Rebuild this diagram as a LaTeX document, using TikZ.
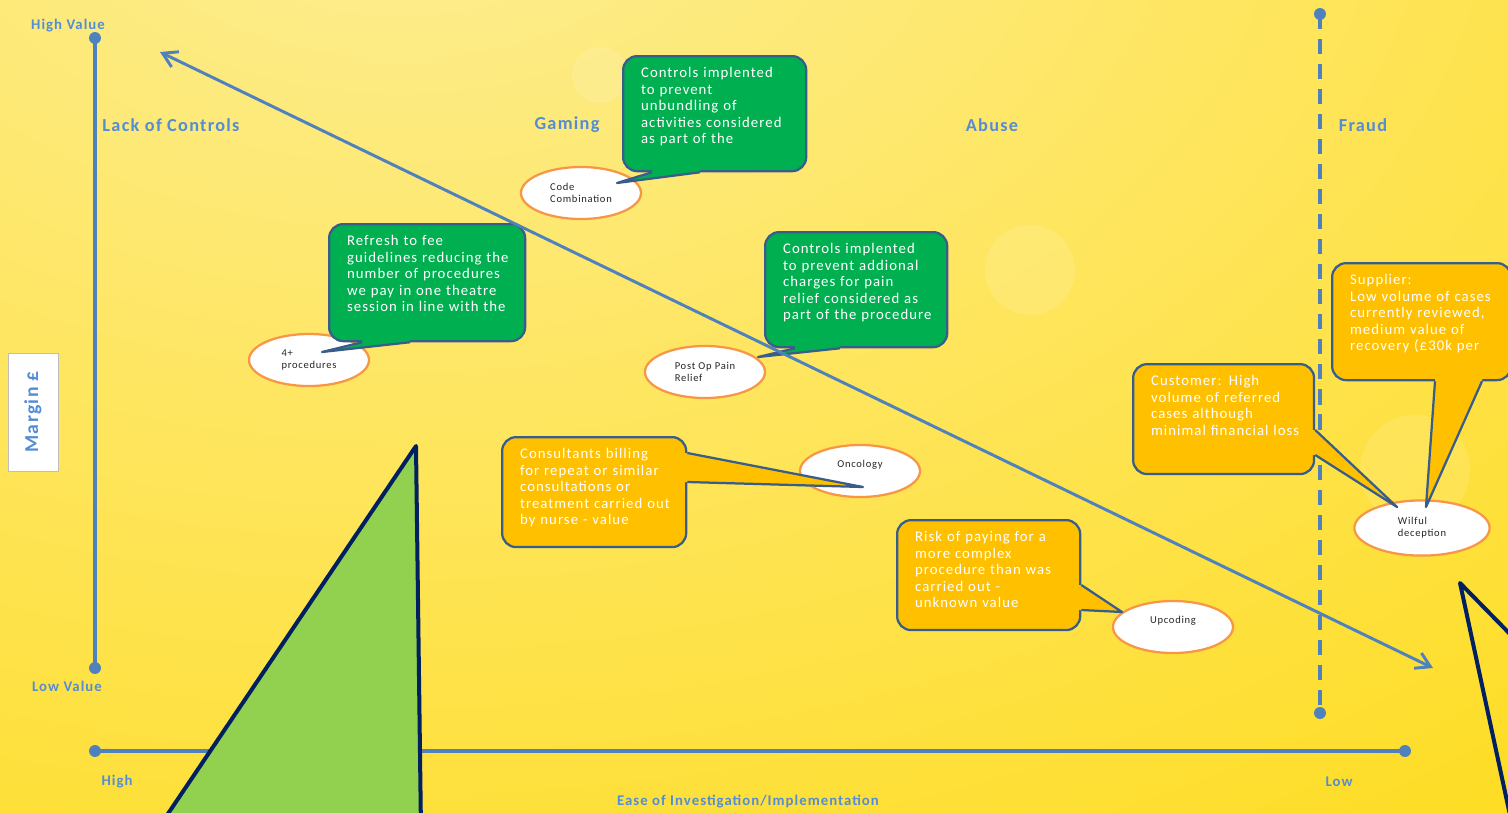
\documentclass[tikz,border=0pt]{standalone}
\usepackage{fontspec}
\setmainfont{Carlito}
\newfontfamily\trackedfont[LetterSpace=7]{Carlito}
\usepackage{tikz}
\usepackage{xcolor}
\usetikzlibrary{arrows.meta, positioning, shapes, calc}
\definecolor{axisblue}{RGB}{79, 129, 189}
\definecolor{labelblue}{RGB}{84, 141, 212}
\definecolor{notegreen}{RGB}{0, 176, 80}
\definecolor{noteorange}{RGB}{255, 192, 0}
\definecolor{noteline}{RGB}{56, 93, 138}
\definecolor{ringorange}{RGB}{247, 150, 70}
\definecolor{wedgegreen}{RGB}{146, 208, 80}
\definecolor{wedgenavy}{RGB}{0, 32, 96}
\definecolor{palesun}{RGB}{253, 238, 150}
\definecolor{sungold}{RGB}{255, 215, 0}
\definecolor{boxgray}{RGB}{190, 190, 190}

\begin{document}
\begin{tikzpicture}[
    x=0.025cm, y=-0.025cm,
    axisline/.style={line width=2.85pt, axisblue},
    enddot/.style={circle, fill=axisblue, inner sep=0pt, minimum size=8.5pt},
    endlabel/.style={font=\trackedfont\bfseries\fontsize{10.5}{12}\selectfont, text=labelblue},
    zone/.style={font=\trackedfont\bfseries\fontsize{13}{15}\selectfont, text=labelblue},
    trend/.style={{Straight Barb[length=10pt, width=12pt]}-{Straight Barb[length=10pt, width=12pt]}, line width=2.1pt, axisblue},
    risk/.style={ellipse, draw=ringorange, fill=white, line width=1.6pt, minimum width=3cm, minimum height=1.3cm, inner sep=0pt, align=left, text=black!85, font=\trackedfont\fontsize{7.5}{8.7}\selectfont},
    callbox/.style={draw=noteline, line width=1.6pt, rounded corners=10pt, anchor=north west, inner sep=0pt, text=white, align=left, text height=15.5pt, execute at begin node={\leftskip=12.8pt}, font=\trackedfont\fontsize{10.5}{11.7}\selectfont},
    greennote/.style={callbox, fill=notegreen},
    orangenote/.style={callbox, fill=noteorange},
    pointer/.style={draw=noteline, line width=1.6pt, line join=round},
    sail/.style={draw=wedgenavy, line width=2.85pt, line join=round}
]

% Background
\useasboundingbox (0,0) rectangle (1508,812);
\clip (0,0) rectangle (1508,812);
\fill[sungold] (0,0) rectangle (1508,812);
\shade[inner color=palesun, outer color=sungold] (400,-150) ellipse (2400 and 1600);
\fill[white, fill opacity=0.12] (600,75) circle (28);
\fill[white, fill opacity=0.12] (1030,270) circle (45);
\fill[white, fill opacity=0.12] (1415,470) circle (55);

% Value axis
\node[enddot] (vhigh) at (95,38) {};
\node[enddot] (vlow) at (95,668) {};
\draw[axisline] (vhigh.center) -- (vlow.center);
\node[endlabel] (highval) at (68,26) {High Value};
\node[endlabel] (lowval) at (67,686) {Low Value};

% Ease axis
\node[enddot] (hhigh) at (95,751) {};
\node[enddot] (hlow) at (1405,751) {};
\draw[axisline] (hhigh.center) -- (hlow.center);
\node[endlabel] (easyend) at (117,782) {High};
\node[endlabel] (hardend) at (1339,782) {Low};
\node[endlabel] (easeaxis) at (748,802) {Ease of Investigation/Implementation};

% Fraud boundary
\node[enddot] (ftop) at (1320,14) {};
\node[enddot] (fbot) at (1320,713) {};
\draw[axisline, dash pattern=on 10.7pt off 7.1pt] (ftop.center) -- (fbot.center);

\node[draw=boxgray, fill=white, rotate=90, minimum width=2.95cm, minimum height=1.25cm, text=labelblue, font=\trackedfont\bfseries\fontsize{14}{16}\selectfont] (margin) at (33,412) {Margin £};

% Zones
\node[zone] (lack) at (171,125) {Lack of Controls};
\node[zone] (gaming) at (567,125) {Gaming};
\node[zone] (abuse) at (992,125) {Abuse};
\node[zone] (fraud) at (1363,125) {Fraud};

% Risks
\node[risk] (combo) at (581,193) {Code\\Combination};
\node[risk] (fourplus) at (309,360) {4+\\procedures};
\node[risk] (painrelief) at (705,372) {Post Op Pain\\Relief};
\node[risk, text depth=10pt] (oncology) at (860,471) {Oncology};
\node[risk, text depth=10pt] (upcoding) at (1173,627) {Upcoding};
\node[risk, minimum width=3.38cm, minimum height=1.38cm] (wilful) at (1422,528) {Wilful\\deception};

% Green callouts
\node[greennote, text width=130.2pt, text depth=66.3pt] (unbundle) at (622,55)
    {Controls implented\\to prevent\\unbundling of\\activities considered\\as part of the};
\coordinate (unbundle-tip) at ($(combo.center)+(36,-10)$);
\fill[notegreen] ($(unbundle.south west)+(30,-3)$) -- ($(unbundle.south west)+(30,0)$) -- (unbundle-tip) -- ($(unbundle.south west)+(78,0)$) -- ($(unbundle.south west)+(78,-3)$) -- cycle;
\draw[pointer] ($(unbundle.south west)+(30,0)$) -- (unbundle-tip) -- ($(unbundle.south west)+(78,0)$);

\node[greennote, text width=139.4pt, text depth=67.7pt] (feerefresh) at (328,223)
    {Refresh to fee\\guidelines reducing the\\number of procedures\\we pay in one theatre\\session in line with the};
\coordinate (feerefresh-tip) at ($(fourplus.center)+(13,-8)$);
\fill[notegreen] ($(feerefresh.south west)+(34,-3)$) -- ($(feerefresh.south west)+(34,0)$) -- (feerefresh-tip) -- ($(feerefresh.south west)+(82,0)$) -- ($(feerefresh.south west)+(82,-3)$) -- cycle;
\draw[pointer] ($(feerefresh.south west)+(34,0)$) -- (feerefresh-tip) -- ($(feerefresh.south west)+(82,0)$);

\node[greennote, text width=129.5pt, text depth=66.3pt] (painnote) at (764,231)
    {Controls implented\\to prevent addional\\charges for pain\\relief considered as\\part of the procedure};
\coordinate (painnote-tip) at ($(painrelief.center)+(53,-15)$);
\fill[notegreen] ($(painnote.south west)+(31,-3)$) -- ($(painnote.south west)+(31,0)$) -- (painnote-tip) -- ($(painnote.south west)+(76,0)$) -- ($(painnote.south west)+(76,-3)$) -- cycle;
\draw[pointer] ($(painnote.south west)+(31,0)$) -- (painnote-tip) -- ($(painnote.south west)+(76,0)$);

% Orange callouts
\node[orangenote, text width=130.9pt, text depth=62.7pt] (billing) at (501,436)
    {Consultants billing\\for repeat or similar\\consultations or\\treatment carried out\\by nurse - value};
\coordinate (billing-tip) at ($(oncology.center)+(3,16)$);
\fill[noteorange] ($(billing.north east)+(-3,17)$) -- ($(billing.north east)+(0,17)$) -- (billing-tip) -- ($(billing.north east)+(0,46)$) -- ($(billing.north east)+(-3,46)$) -- cycle;
\draw[pointer] ($(billing.north east)+(0,17)$) -- (billing-tip) -- ($(billing.north east)+(0,46)$);

\node[orangenote, text width=130.2pt, text depth=62.7pt] (complexity) at (896,519)
    {Risk of paying for a\\more complex\\procedure than was\\carried out -\\unknown value};
\coordinate (complexity-tip) at ($(upcoding.center)+(-51,-15)$);
\fill[noteorange] ($(complexity.north east)+(-3,66)$) -- ($(complexity.north east)+(0,66)$) -- (complexity-tip) -- ($(complexity.north east)+(0,91)$) -- ($(complexity.north east)+(-3,91)$) -- cycle;
\draw[pointer] ($(complexity.north east)+(0,66)$) -- (complexity-tip) -- ($(complexity.north east)+(0,91)$);

\node[orangenote, text width=128.7pt, text depth=62.7pt] (customer) at (1132,363)
    {Customer: High\\volume of referred\\cases although\\minimal financial loss};
\coordinate (customer-tip) at ($(wilful.center)+(-25,-21)$);
\fill[noteorange] ($(customer.north east)+(-3,67)$) -- ($(customer.north east)+(0,67)$) -- (customer-tip) -- ($(customer.north east)+(0,92)$) -- ($(customer.north east)+(-3,92)$) -- cycle;
\draw[pointer] ($(customer.north east)+(0,67)$) -- (customer-tip) -- ($(customer.north east)+(0,92)$);

\node[orangenote, text width=127.3pt, text depth=67.7pt] (supplier) at (1331,262)
    {Supplier:\\Low volume of cases\\currently reviewed,\\medium value of\\recovery (£30k per};
\coordinate (supplier-tip) at ($(wilful.center)+(4,-21)$);
\fill[noteorange] ($(supplier.south west)+(104,-3)$) -- ($(supplier.south west)+(104,0)$) -- (supplier-tip) -- ($(supplier.south west)+(151,0)$) -- ($(supplier.south west)+(151,-3)$) -- cycle;
\draw[pointer] ($(supplier.south west)+(104,0)$) -- (supplier-tip) -- ($(supplier.south west)+(151,0)$);

% Trend arrow
\coordinate (trend-high) at (160,52);
\coordinate (trend-low) at (1433,668);
\draw[trend] (trend-high) -- (trend-low);

% Triangles
\draw[sail, fill=wedgegreen] (416,446) -- (157,830) -- (421,830) -- cycle;
\draw[sail] (1560,685) -- (1460,583) -- (1516,843);

\end{tikzpicture}
\end{document}
